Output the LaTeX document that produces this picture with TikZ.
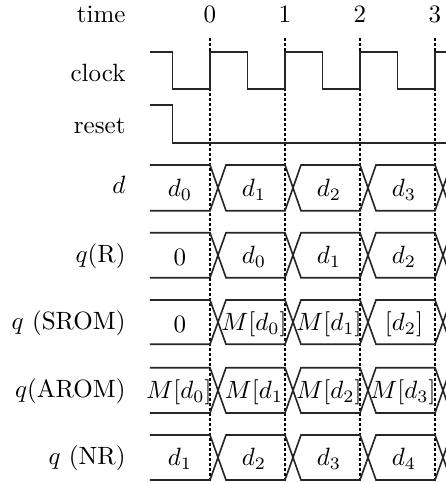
\documentclass[tikz,border=0pt]{standalone}
\begin{document}
\begin{tikzpicture}[x=0.4pt,y=-0.4pt,
  sig/.style={line width=0.65pt, black!85, line join=miter},
  gridline/.style={line width=0.55pt, dash pattern=on 1.2pt off 0.8pt},
  lbl/.style={anchor=base east, inner sep=0pt},
  tick/.style={anchor=base, inner sep=0pt},
  val/.style={anchor=center, inner sep=0pt}]
\useasboundingbox (0,0) rectangle (446,482);
\clip (0,0) rectangle (446,482);

% row labels
\node[lbl] (ltime)  at (126,22.5) {time};
\node[lbl] (lclock) at (126,81.5) {clock};
\node[lbl] (lreset) at (126,133) {reset};
\node[lbl] (ld)     at (126,193) {$d$};
\node[lbl] (lqr)    at (126,262) {$q$(R)};
\node[lbl] (lsrom)  at (126,329) {$q$ (SROM)};
\node[lbl] (larom)  at (126,397) {$q$(AROM)};
\node[lbl] (lnr)    at (126,464) {$q$ (NR)};

% time ticks
\node[tick] (t0) at (210,22.5) {0};
\node[tick] (t1) at (285,22.5) {1};
\node[tick] (t2) at (360,22.5) {2};
\node[tick] (t3) at (435,22.5) {3};

% dotted clock-edge lines
\foreach \k in {0,...,3}
  \draw[gridline] ({210+75*\k},38) -- ({210+75*\k},482);

% clock
\draw[sig] (150,51.7) -- (172.5,51.7) -- (172.5,89) -- (210,89) -- (210,51.7)
  -- (247.5,51.7) -- (247.5,89) -- (285,89) -- (285,51.7)
  -- (322.5,51.7) -- (322.5,89) -- (360,89) -- (360,51.7)
  -- (397.5,51.7) -- (397.5,89) -- (435,89) -- (435,51.7) -- (450,51.7);

% reset
\draw[sig] (150,105) -- (172.5,105) -- (172.5,143.3) -- (450,143.3);

% buses
\foreach \yt/\yb in {165/210.7, 232.7/277.7, 300/344.3, 367.7/413, 435/480} {
  \draw[sig] (150,\yt) -- (210,\yt) -- (226,\yb) -- (285,\yb) -- (301,\yt)
    -- (360,\yt) -- (376,\yb) -- (435,\yb) -- (451,\yt);
  \draw[sig] (150,\yb) -- (210,\yb) -- (226,\yt) -- (285,\yt) -- (301,\yb)
    -- (360,\yb) -- (376,\yt) -- (435,\yt) -- (451,\yb);
}

% bus values
\node[val] (d0)  at (180,190) {$d_0$};
\node[val] (d1)  at (254,190) {$d_1$};
\node[val] (d2)  at (329,190) {$d_2$};
\node[val] (d3)  at (404,190) {$d_3$};

\node[val] (r0)  at (180,257) {$0$};
\node[val] (r1)  at (254,257) {$d_0$};
\node[val] (r2)  at (329,257) {$d_1$};
\node[val] (r3)  at (404,257) {$d_2$};

\node[val] (s0)  at (180,324) {$0$};
\node[val] (s1)  at (254,324) {$M[d_0]$};
\node[val] (s2)  at (329,324) {$M[d_1]$};
\node[val] (s3)  at (404,324) {$[d_2]$};

\node[val] (a0)  at (179,392) {$M[d_0]$};
\node[val] (a1)  at (254,392) {$M[d_1$};
\node[val] (a2)  at (329,392) {$M[d_2]$};
\node[val] (a3)  at (403,392) {$M[d_3]$};

\node[val] (n0)  at (180,459) {$d_1$};
\node[val] (n1)  at (254,459) {$d_2$};
\node[val] (n2)  at (329,459) {$d_3$};
\node[val] (n3)  at (404,459) {$d_4$};
\end{tikzpicture}
\end{document}
